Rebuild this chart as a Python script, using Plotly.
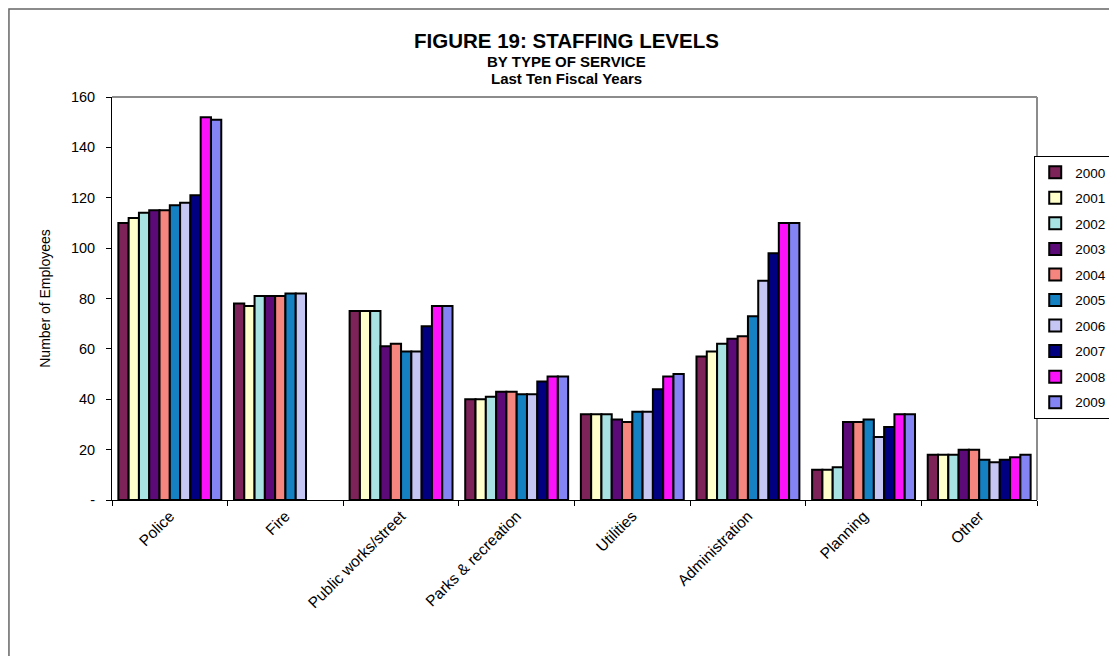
import plotly.graph_objects as go

categories = ["Police", "Fire", "Public works/street", "Parks & recreation",
              "Utilities", "Administration", "Planning", "Other"]
years = ["2000", "2001", "2002", "2003", "2004", "2005", "2006", "2007", "2008", "2009"]

# staffing by year, one value per category (same order as categories)
y2000 = [110, 78, 75, 40, 34, 57, 12, 18]
y2001 = [112, 77, 75, 40, 34, 59, 12, 18]
y2002 = [114, 81, 75, 41, 34, 62, 13, 18]
y2003 = [115, 81, 61, 43, 32, 64, 31, 20]
y2004 = [115, 81, 62, 43, 31, 65, 31, 20]
y2005 = [117, 82, 59, 42, 35, 73, 32, 16]
y2006 = [118, 82, 59, 42, 35, 87, 25, 15]
y2007 = [121, 0, 69, 47, 44, 98, 29, 16]
y2008 = [152, 0, 77, 49, 49, 110, 34, 17]
y2009 = [151, 0, 77, 49, 50, 110, 34, 18]

series = [y2000, y2001, y2002, y2003, y2004, y2005, y2006, y2007, y2008, y2009]
colors = ["#7e2359", "#ffffcc", "#a9e2e2", "#5c0a78", "#f4857f",
          "#1580c2", "#c6c6f4", "#000080", "#fb12fb", "#8484f4"]

tick_vals = [0, 20, 40, 60, 80, 100, 120, 140, 160]
tick_text = ["-", "20", "40", "60", "80", "100", "120", "140", "160"]

fig = go.Figure()
for yr, vals, col in zip(years, series, colors):
    # Fire has no bars for the last three years
    vals = [v if v > 0 else None for v in vals]
    fig.add_trace(go.Bar(x=categories, y=vals, name=yr, legendgroup=yr,
                         marker=dict(color=col, line=dict(color="black", width=2))))

# page body has an 8px margin, so the figure is 8px smaller than the window
fig.update_layout(
    width=1109, height=648,
    paper_bgcolor="white", plot_bgcolor="white",
    font=dict(family="Liberation Sans, Arial, sans-serif", color="black", size=13),
    margin=dict(l=104, r=80, t=89, b=156, autoexpand=False),
    barmode="group", bargap=0.11, bargroupgap=0,
    showlegend=True,
    legend=dict(x=0.997, y=0.8536, xanchor="left", yanchor="top",
                bordercolor="black", borderwidth=1, bgcolor="white",
                font=dict(size=13.5), tracegroupgap=5, itemwidth=30),
)

fig.update_xaxes(showline=True, linecolor="black", linewidth=1,
                 ticks="outside", tickson="boundaries", ticklen=5, tickcolor="black",
                 tickangle=-45, tickfont=dict(size=15.5), showgrid=False)
fig.update_yaxes(range=[0, 160], tickvals=tick_vals, ticktext=tick_text,
                 showline=True, linecolor="black", linewidth=1,
                 ticks="outside", ticklen=5, tickcolor="black", showgrid=False,
                 ticklabelstandoff=8, tickfont=dict(size=14.5),
                 title=dict(text="Number of Employees", font=dict(size=14), standoff=16))

# gray top and right edges of the plot area
fig.add_shape(type="line", xref="paper", yref="paper", x0=0, x1=1, y0=1, y1=1,
              line=dict(color="#8c8c8c", width=2))
fig.add_shape(type="line", xref="paper", yref="paper", x0=1, x1=1, y0=0, y1=1,
              line=dict(color="#8c8c8c", width=2))
# outer chart frame
fig.add_shape(type="rect", xref="paper", yref="paper", x0=-0.1114, x1=1.2, y0=-0.5, y1=1.2183,
              line=dict(color="#666666", width=1.5))

fig.add_annotation(text="<b>FIGURE 19: STAFFING LEVELS</b>", xref="paper", yref="paper",
                   x=0.491, y=1.139, yanchor="middle", showarrow=False, font=dict(size=20.5))
fig.add_annotation(text="<b>BY TYPE OF SERVICE</b>", xref="paper", yref="paper",
                   x=0.491, y=1.087, yanchor="middle", showarrow=False, font=dict(size=15))
fig.add_annotation(text="<b>Last Ten Fiscal Years</b>", xref="paper", yref="paper",
                   x=0.491, y=1.047, yanchor="middle", showarrow=False, font=dict(size=15))

fig.write_html("out.html")
